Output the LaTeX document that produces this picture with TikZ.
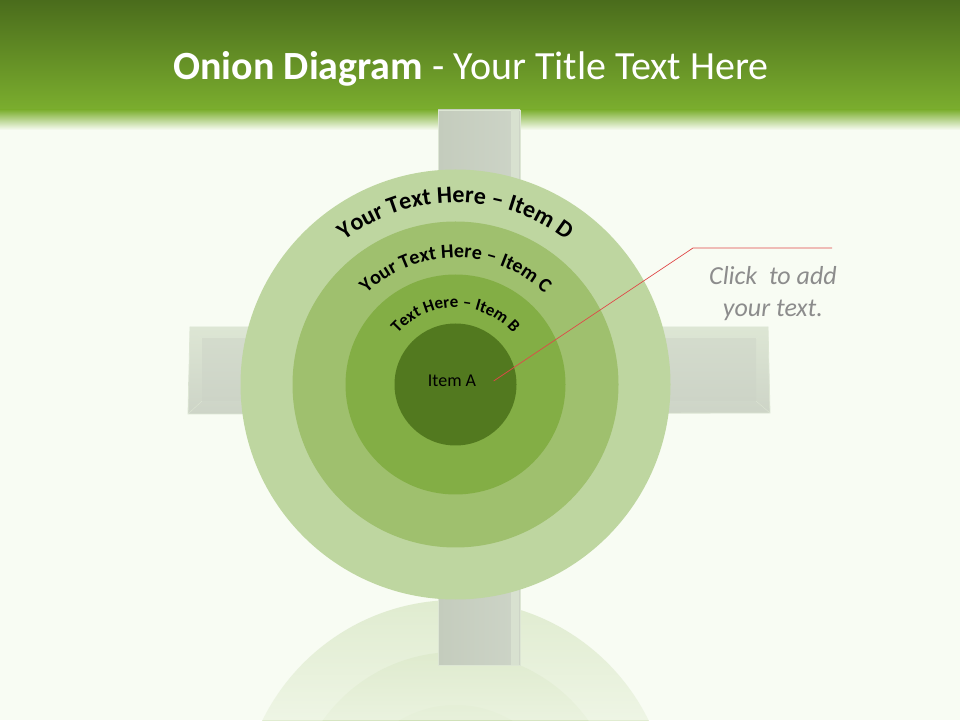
\documentclass[tikz,border=0pt]{standalone}
\usepackage{fontspec}
\setmainfont{Carlito}
\usetikzlibrary{calc,decorations.text,fadings}

\definecolor{bgcol}{HTML}{F8FCF3}
\definecolor{hdrtop}{HTML}{4A6C1C}
\definecolor{hdrbot}{HTML}{7BAE2E}
\definecolor{ringD}{HTML}{BED6A0}
\definecolor{ringC}{HTML}{9FC06E}
\definecolor{ringB}{HTML}{83AE45}
\definecolor{ringA}{HTML}{52791F}
\definecolor{barcol}{HTML}{CDD4C7}
\definecolor{bardark}{HTML}{C4CCBD}
\definecolor{barlite}{HTML}{DDE6D4}
\definecolor{clickgray}{HTML}{8C8C8C}
\definecolor{callred}{HTML}{E04848}

\tikzfading[name=reflfade, top color=transparent!100, bottom color=transparent!40]

\tikzset{
  ring/.style={circle, minimum size=#1, inner sep=0pt},
  ringtext/.style={decorate, decoration={text along path, text align=center, text={#1}}},
  baredge/.style={draw=barlite, line width=0.8pt},
  callout/.style={draw=callred, line width=0.7pt},
}

\begin{document}
\begin{tikzpicture}[x=1pt,y=1pt]
   \useasboundingbox (0,0) rectangle (960,720);
   \fill[bgcol] (0,0) rectangle (960,720);
   % reflection under the onion
   \begin{scope}
      \clip (0,0) rectangle (960,120);
      \coordinate (rctr) at (455.5,-95);
      \fill[ringD!42!bgcol] (rctr) circle[radius=215];
      \fill[ringC!38!bgcol] (rctr) circle[radius=163];
      \fill[ringB!34!bgcol] (rctr) circle[radius=110];
      \fill[ringA!30!bgcol] (rctr) circle[radius=61];
   \end{scope}
   \fill[bgcol, path fading=reflfade] (0,0) rectangle (960,120);
   % header
   \shade[top color=hdrtop, bottom color=hdrbot] (0,610) rectangle (960,720);
   \shade[top color=hdrbot, bottom color=bgcol] (0,590) rectangle (960,610.5);
   \node[font=\fontsize{40}{48}\selectfont, text=white] (title) at (471,651)
      {\textbf{Onion Diagram} - Your Title Text Here};
   % cross behind the rings
   \shade[left color=bardark, right color=barcol, baredge] (438,55) rectangle (520,610);
   \fill[barlite!70!barcol] (511,55) rectangle (519,610);
   \shade[top color=barlite, bottom color=barcol, baredge] (190,393) -- (768,393) -- (770,307) -- (188,306) -- cycle;
   \shade[top color=barcol!60!barlite, bottom color=barcol] (202,381) rectangle (756,319);
   \draw[barlite] (190,393) -- (202,381) (768,393) -- (756,381) (770,307) -- (756,319) (188,306) -- (202,319);
   % rings
   \coordinate (ctr) at (455.5,335.5);
   \node[ring=430, fill=ringD] (ringD) at (ctr) {};
   \node[ring=326, fill=ringC] (ringC) at (ctr) {};
   \node[ring=220, fill=ringB] (ringB) at (ctr) {};
   \node[ring=122, fill=ringA] (ringA) at (ctr) {};
   \path[ringtext={|\bfseries\fontsize{24}{29}\selectfont|Your Text Here – Item D}]
      ($(ctr)+(150:182)$) arc[start angle=150, end angle=30, radius=182];
   \path[ringtext={|\bfseries\fontsize{20}{24}\selectfont|Your Text Here – Item C}]
      ($(ctr)+(155:127)$) arc[start angle=155, end angle=25, radius=127];
   \path[ringtext={|\bfseries\fontsize{17}{20}\selectfont|Text Here – Item B}]
      ($(ctr)+(160:77)$) arc[start angle=160, end angle=20, radius=77];
   \node[font=\fontsize{18}{22}\selectfont] (itemA) at (452,339) {Item A};
   % callout
   \coordinate (elbow) at (693,472);
   \coordinate (lineend) at (832,472);
   \draw[callout] ([xshift=14pt]itemA.east) -- (elbow) -- (lineend);
   \node[align=center, text=clickgray, font=\itshape\fontsize{26}{32}\selectfont] (clicktext)
      at (773,426) {Click\ \ to add\\your text.};
\end{tikzpicture}
\end{document}
